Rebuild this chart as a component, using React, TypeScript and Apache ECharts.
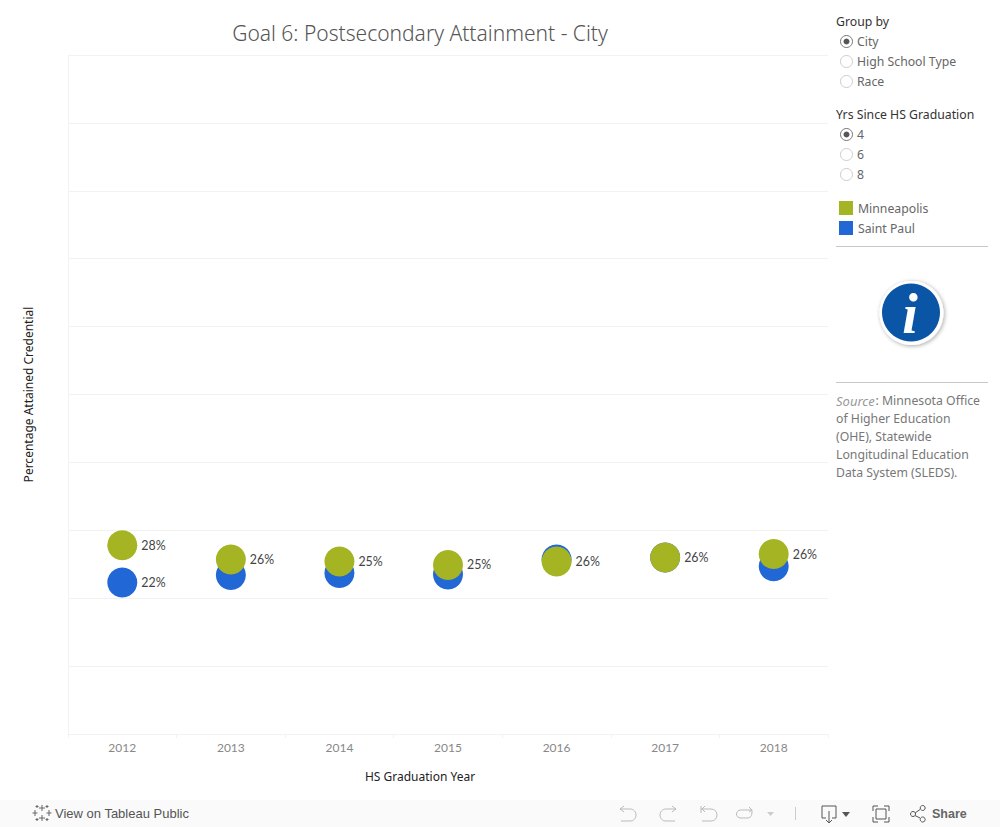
import React, { useEffect, useRef } from "react";
import * as echarts from "echarts";

const years = ["2012", "2013", "2014", "2015", "2016", "2017", "2018"];
const minneapolis = [27.8, 25.7, 25.4, 24.9, 25.4, 26.0, 26.5];
const saintPaul = [22.3, 23.4, 23.7, 23.5, 25.7, 26.0, 24.7];
const minneapolisLabels = ["28%", "26%", "25%", "25%", "26%", "26%", "26%"];
const saintPaulLabels = ["22%", "", "", "", "", "", ""];
const groupOptions = ["City", "High School Type", "Race"];
const yearOptions = ["4", "6", "8"];
const sourceLines = ["Minnesota Office", "of Higher Education", "(OHE), Statewide", "Longitudinal Education", "Data System (SLEDS)."];

const FONT = "Noto Sans";
const NUM_FONT = "Lato";
const GREEN = "#a5b422";
const BLUE = "#2168d6";
const SIDE = 12.25;

const reg = (name: string, d: string) =>
  echarts.graphic.registerShape(name, echarts.graphic.extendPath(d, {}));

reg("undoIcon", "M620 809L630 809C638 809 638 821 630 821L621 821M624 806L620 809L624 812");
reg("redoIcon", "M676 809L666 809C658 809 658 821 666 821L675 821M672 806L676 809L672 812");
reg("revertIcon", "M701 806L701 813M701 809L711 809C719 809 719 821 711 821L702 821M705 806L702 809L705 812");
reg("forwardIcon", "M752 810L741 810C735 810 735 818 741 818L747 818C752 818 752 814 752 810M749 807L752 810L749 812");
reg("downloadIcon", "M826 818L822 818L822 806L836 806L836 818L832 818M829 811L829 822M826 820L829 823L832 820");
reg("fullIcon", "M873 811L873 806L878 806M884 806L889 806L889 811M889 817L889 822L884 822M878 822L873 822L873 817M876 809L886 809L886 819L876 819Z");
reg("shareIcon", "M915 813L920 809.5M915 815.5L920 818");
reg("tableauIcon", "M42 805L42 811M39 808L45 808M42 815L42 821M39 818L45 818M35 810L35 816M32.5 813L37.5 813M49 810L49 816M46.5 813L51.5 813M37 805L37 808M35.5 806.5L38.5 806.5M47 805L47 808M45.5 806.5L48.5 806.5M37 818L37 821M35.5 819.5L38.5 819.5M47 818L47 821M45.5 819.5L48.5 819.5");

const text = (x: number, y: number, t: string, fontSize: number, fill: string, extra: any = {}) => ({
  type: "text",
  x,
  y,
  style: { text: t, fontFamily: FONT, fontSize, fill, textVerticalAlign: "middle", verticalAlign: "middle", ...extra },
});

const radio = (cy: number, label: string, selected: boolean) => {
  const items: any[] = [
    { type: "circle", shape: { cx: 846.5, cy, r: 6 }, style: { fill: "#fff", stroke: selected ? "#777" : "#ccc", lineWidth: 1 } },
    text(857, cy, label, SIDE, "#666"),
  ];
  if (selected) items.push({ type: "circle", shape: { cx: 846.5, cy, r: 3 }, style: { fill: "#555" } });
  return items;
};

const icon = (type: string, stroke = "#bbb") => ({ type, style: { stroke, fill: "none", lineWidth: 1 } });

function buildGraphic() {
  const g: any[] = [];
  g.push(text(836, 21.5, "Group by", SIDE, "#333"));
  groupOptions.forEach((o, i) => g.push(...radio(41.5 + i * 20, o, i === 0)));
  g.push(text(836, 114.5, "Yrs Since HS Graduation", SIDE, "#333"));
  yearOptions.forEach((o, i) => g.push(...radio(134.5 + i * 20, o, i === 0)));
  g.push({ type: "line", shape: { x1: 836, y1: 246.5, x2: 988, y2: 246.5 }, style: { stroke: "#c8c8c8", lineWidth: 1 } });
  g.push({ type: "line", shape: { x1: 836, y1: 382.5, x2: 988, y2: 382.5 }, style: { stroke: "#c8c8c8", lineWidth: 1 } });
  // info badge
  g.push({
    type: "circle",
    shape: { cx: 911.5, cy: 313, r: 32 },
    style: { fill: "#fff", shadowBlur: 4, shadowColor: "rgba(0,0,0,0.35)", shadowOffsetX: 1, shadowOffsetY: 1 },
  });
  g.push({ type: "circle", shape: { cx: 911, cy: 312.5, r: 29 }, style: { fill: "#0b55a6" } });
  g.push({
    type: "text",
    x: 910,
    y: 314,
    style: {
      text: "i",
      fontFamily: "Liberation Serif",
      fontStyle: "italic",
      fontWeight: "bold",
      fontSize: 56,
      fill: "#fff",
      textAlign: "center",
      textVerticalAlign: "middle",
      verticalAlign: "middle",
    },
  });
  // source
  g.push(text(836, 400.5, "Source", 13, "#999", { fontStyle: "italic" }));
  g.push(text(875.5, 400.5, ":", SIDE, "#777"));
  g.push(text(882, 400.5, sourceLines[0], SIDE, "#777"));
  sourceLines.slice(1).forEach((l, i) => g.push(text(836, 418.5 + i * 18, l, SIDE, "#777")));
  // toolbar
  g.push({ type: "rect", z: -1, shape: { x: 0, y: 800, width: 1000, height: 27 }, style: { fill: "#fafafa" } });
  g.push(icon("tableauIcon", "#666"));
  g.push({
    type: "text",
    x: 55,
    y: 813.5,
    style: { text: "View on Tableau Public", fontFamily: "Liberation Sans", fontSize: 13, fill: "#555", verticalAlign: "middle", textVerticalAlign: "middle" },
  });
  g.push(icon("undoIcon"), icon("redoIcon"), icon("revertIcon"), icon("forwardIcon"));
  g.push({ type: "polygon", shape: { points: [[767, 812], [774, 812], [770.5, 816]] }, style: { fill: "#ccc" } });
  g.push({ type: "line", shape: { x1: 795.5, y1: 807, x2: 795.5, y2: 820 }, style: { stroke: "#ccc", lineWidth: 1 } });
  g.push(icon("downloadIcon", "#555"));
  g.push({ type: "polygon", shape: { points: [[842, 812], [850, 812], [846, 817]] }, style: { fill: "#555" } });
  g.push(icon("fullIcon", "#555"));
  g.push(icon("shareIcon", "#555"));
  [[913, 814], [922.7, 808], [922.7, 819.5]].forEach(([cx, cy]) =>
    g.push({ type: "circle", shape: { cx, cy, r: 2.5 }, style: { fill: "none", stroke: "#555", lineWidth: 1 } })
  );
  g.push({
    type: "text",
    x: 932,
    y: 813.5,
    style: { text: "Share", fontFamily: "Liberation Sans", fontSize: 12.5, fontWeight: "bold", fill: "#666", verticalAlign: "middle", textVerticalAlign: "middle" },
  });
  return g;
}

const seriesOf = (name: string, values: number[], labels: string[], color: string, z: number) => ({
  name,
  type: "scatter",
  z,
  symbol: "circle",
  symbolSize: 30,
  itemStyle: { color, opacity: 1 },
  data: values,
  label: {
    show: true,
    position: "right",
    distance: 4,
    fontFamily: NUM_FONT,
    fontSize: 12.4,
    color: "#444",
    formatter: (p: any) => labels[p.dataIndex],
  },
});

export default function App() {
  const ref = useRef<HTMLDivElement>(null);
  useEffect(() => {
    const chart = echarts.init(ref.current!, undefined, { renderer: "svg" });
    chart.setOption({
      animation: false,
      backgroundColor: "#fff",
      title: {
        text: "Goal 6: Postsecondary Attainment - City",
        left: 415,
        top: 17,
        textAlign: "center",
        textStyle: { fontFamily: FONT, fontSize: 21, fontWeight: 300, color: "#555" },
      },
      grid: { left: 68, right: 172, top: 55, bottom: 93, containLabel: false },
      legend: {
        data: ["Minneapolis", "Saint Paul"],
        orient: "vertical",
        left: 839,
        top: 201,
        itemWidth: 14,
        itemHeight: 14,
        itemGap: 6,
        icon: "rect",
        textStyle: { fontFamily: FONT, fontSize: SIDE, color: "#666" },
        padding: 0,
        selectedMode: false,
      },
      xAxis: {
        type: "category",
        data: years,
        name: "HS Graduation Year",
        nameLocation: "middle",
        nameGap: 36,
        nameTextStyle: { fontFamily: FONT, fontSize: 12, color: "#222", padding: [0, 56, 0, 0] },
        axisLine: { show: true, lineStyle: { color: "#f2f2f2" } },
        axisTick: { show: true, length: 4, alignWithLabel: false, lineStyle: { color: "#f2f2f2" } },
        axisLabel: { fontFamily: NUM_FONT, fontSize: 12, color: "#888", margin: 7 },
        splitLine: { show: false },
      },
      yAxis: {
        type: "value",
        min: 0,
        max: 100,
        interval: 10,
        name: "Percentage Attained Credential",
        nameLocation: "middle",
        nameRotate: 90,
        nameGap: 34,
        nameTextStyle: { fontFamily: FONT, fontSize: 12, color: "#222" },
        axisLine: { show: true, lineStyle: { color: "#f2f2f2" } },
        axisTick: { show: false },
        axisLabel: { show: false },
        splitLine: { show: true, lineStyle: { color: "#f2f2f2", width: 1 } },
      },
      series: [
        seriesOf("Saint Paul", saintPaul, saintPaulLabels, BLUE, 2),
        seriesOf("Minneapolis", minneapolis, minneapolisLabels, GREEN, 3),
      ],
      graphic: buildGraphic(),
    });
    return () => chart.dispose();
  }, []);
  return <div ref={ref} style={{ position: "fixed", left: 0, top: 0, width: 1000, height: 827 }} />;
}
